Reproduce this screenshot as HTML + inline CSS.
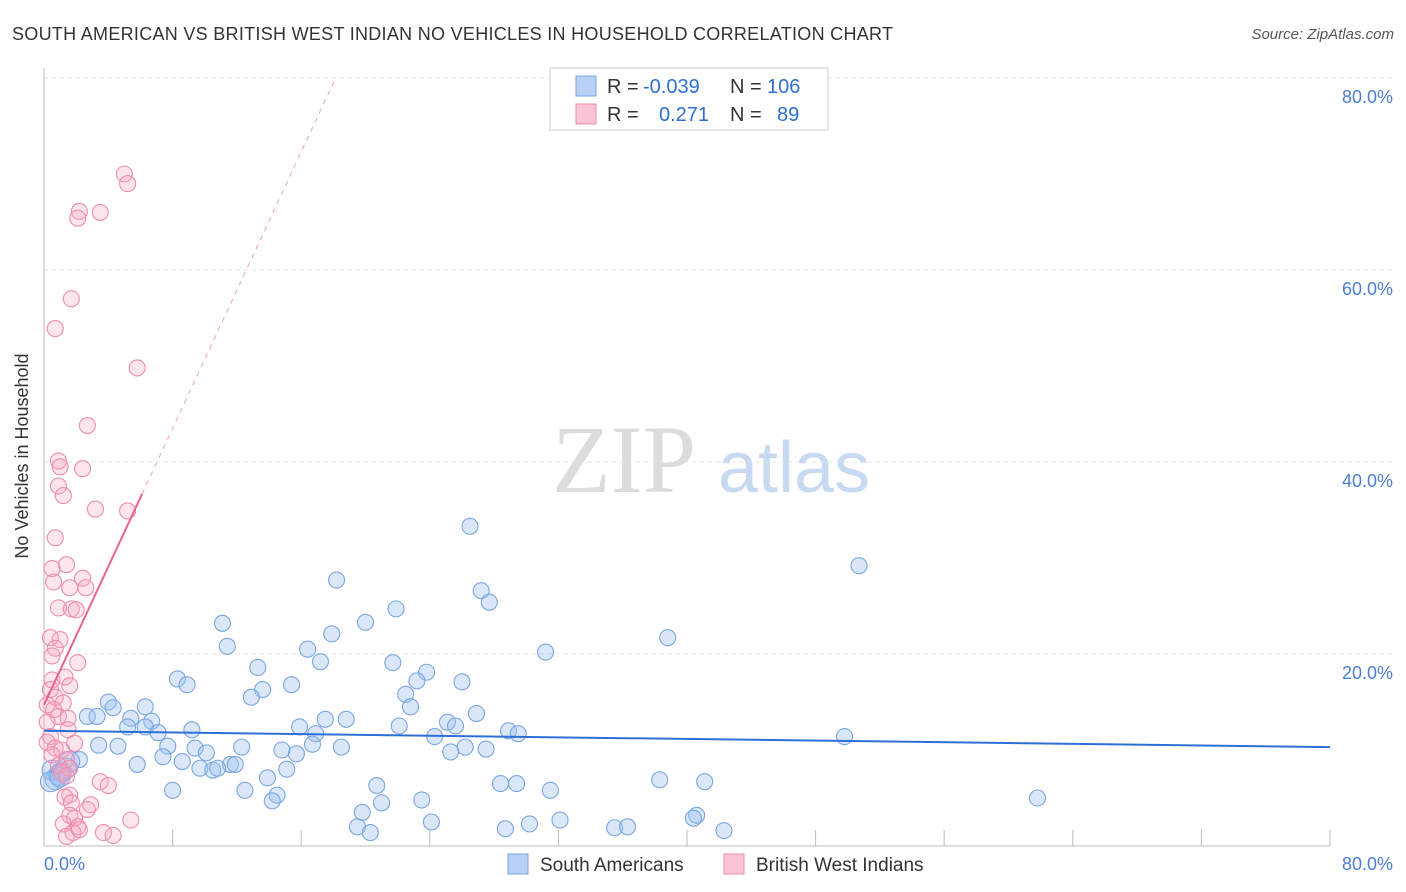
<!DOCTYPE html>
<html><head><meta charset="utf-8">
<style>
body{margin:0;background:#fff;font-family:"Liberation Sans",sans-serif;}
#wrap{position:relative;width:1406px;height:892px;overflow:hidden;}
</style></head>
<body>
<div id="wrap">
<svg id="svg" width="1406" height="892" xmlns="http://www.w3.org/2000/svg" font-family="Liberation Sans, sans-serif">
<text x="12" y="40" font-size="18" fill="#333" textLength="881">SOUTH AMERICAN VS BRITISH WEST INDIAN NO VEHICLES IN HOUSEHOLD CORRELATION CHART</text>
<text x="1394" y="39" font-size="15" fill="#555" font-style="italic" text-anchor="end">Source: ZipAtlas.com</text>
<text x="28" y="456" font-size="18" fill="#333" text-anchor="middle" transform="rotate(-90 28 456)">No Vehicles in Household</text>
<g><text x="552" y="492" font-size="96" fill="#dcdcdc" font-family="Liberation Serif, serif">ZIP</text><text x="718" y="492" font-size="72" fill="#c8daf2">atlas</text></g>
<g id="grid"></g>
<g id="pts"></g>
<g id="trend"></g>
<g>
<rect x="550" y="68" width="278" height="62" fill="#fff" stroke="#ccc"/>
<rect x="576" y="76" width="20" height="20" fill="#b7d0f3" stroke="#7aa6e0"/>
<rect x="576" y="104" width="20" height="20" fill="#f9c5d6" stroke="#f08cb0"/>
<text y="93" font-size="20" fill="#333"><tspan x="607">R = </tspan><tspan x="643" fill="#2e6fd6">-0.039</tspan><tspan x="730">N = </tspan><tspan x="767" fill="#2e6fd6">106</tspan></text>
<text y="121" font-size="20" fill="#333"><tspan x="607">R = </tspan><tspan fill="#2e6fd6" x="659">0.271</tspan><tspan x="730">N = </tspan><tspan fill="#2e6fd6" x="777">89</tspan></text>
</g>
<g>
<rect x="508" y="854" width="20" height="20" fill="#b7d0f3" stroke="#7aa6e0"/>
<text x="540" y="871" font-size="19" fill="#333">South Americans</text>
<rect x="724" y="854" width="20" height="20" fill="#f9c5d6" stroke="#f08cb0"/>
<text x="756" y="871" font-size="19" fill="#333">British West Indians</text>
</g>
<text x="44" y="870" font-size="18" fill="#4a7fd4">0.0%</text>
<text x="1393" y="870" font-size="18" fill="#4a7fd4" text-anchor="end">80.0%</text>
</svg>
</div>
<script>
const blueX=[26.5,50.7,18.2,27.2,27.7,21.9,11.1,20.0,38.8,17.9,11.4,16.4,31.2,17.2,21.7,13.3,23.8,23.2,26.0,8.3,8.9,15.4,13.6,12.9,22.5,22.8,4.0,4.3,6.3,2.7,3.3,5.4,6.7,17.5,18.8,26.9,25.1,25.6,5.2,6.3,9.2,15.9,22.1,28.9,29.5,49.8,7.1,16.9,24.3,3.4,4.6,7.7,9.4,12.3,16.7,18.5,26.2,27.5,10.1,14.8,15.7,25.3,2.2,7.4,8.6,5.8,11.6,11.9,9.7,10.5,10.8,15.1,13.9,38.3,41.1,20.7,28.4,29.4,8.0,12.5,31.5,14.5,14.2,21.0,23.5,61.8,19.8,40.6,40.4,24.1,32.1,30.2,19.5,28.7,20.3,35.5,36.3,42.3,0.5,0.9,1.1,1.4,1.6,0.7,0.4,1.0];
const blueY=[33.3,29.2,27.7,26.6,25.4,24.7,23.2,23.3,21.7,22.1,20.8,20.5,20.2,19.2,19.1,18.6,18.1,17.2,17.1,17.4,16.8,16.8,16.3,15.5,15.8,14.5,15.0,14.4,14.5,13.5,13.5,13.3,13.0,13.2,13.2,13.8,12.9,12.5,12.4,12.4,12.1,12.4,12.5,12.0,11.7,11.4,11.8,11.7,11.4,10.5,10.4,10.4,10.2,10.3,10.6,10.3,10.3,10.1,9.7,10.0,9.6,9.8,9.0,9.3,8.8,8.5,8.5,8.5,8.1,7.9,8.1,8.0,7.1,6.9,6.7,6.3,6.5,6.5,5.8,5.8,5.8,5.3,4.7,4.5,4.8,5.0,3.5,3.2,2.9,2.5,2.7,2.3,2.0,1.8,1.4,1.9,2.0,1.6,7.9,7.4,7.7,8.1,8.8,6.9,6.7,7.2];
const pinkX=[5.0,5.2,2.2,3.5,2.1,1.7,0.7,5.8,2.7,0.9,1.0,2.4,0.9,1.2,3.2,5.2,0.7,0.5,1.4,0.6,2.4,2.6,1.6,0.9,1.7,2.0,0.4,1.0,0.7,0.5,2.1,0.5,1.3,1.6,0.4,0.7,1.2,0.2,0.6,0.9,1.5,0.2,1.5,0.4,0.2,1.9,0.7,1.1,0.5,1.4,0.9,1.6,1.1,1.4,3.5,4.0,1.6,1.3,1.7,2.9,2.7,1.6,1.9,1.2,2.1,5.4,3.7,4.3,1.8,1.4,2.2];
const pinkY=[70.0,69.0,66.1,66.0,65.4,57.0,53.9,49.8,43.8,40.1,39.5,39.3,37.5,36.5,35.1,34.9,32.1,28.9,29.3,27.5,27.9,26.9,26.9,24.8,24.7,24.6,21.7,21.5,20.6,19.8,19.1,17.3,17.6,16.7,16.3,15.5,14.9,14.7,14.2,13.5,13.3,12.9,12.1,11.4,10.8,10.7,10.2,10.0,9.5,9.0,8.4,8.1,7.7,7.3,6.7,6.3,5.3,5.1,4.5,4.3,3.8,3.2,2.9,2.3,2.0,2.7,1.4,1.1,1.4,1.0,1.7];
const yTicks=[20,40,60,80];
const blueTrend=[12.0,10.3];
const pinkTrend=[14.7,3.6];
const X0=44,X1=1330,Y0=846,PXY=9.6;
const sx=v=>X0+v*(X1-X0)/80, sy=v=>Y0-v*PXY;
const NS='http://www.w3.org/2000/svg';
function mk(t,a,p){const e=document.createElementNS(NS,t);for(const k in a)e.setAttribute(k,a[k]);p.appendChild(e);return e;}
const grid=document.getElementById('grid');
yTicks.forEach(t=>{
 const l=mk('line',{x1:X0,x2:1393,y1:sy(t),y2:sy(t),stroke:'#e4e4e4','stroke-dasharray':'4,4'},grid);
 
 
 const tx=mk('text',{x:1393,y:sy(t)+25,'font-size':18,fill:'#4a7fd4','text-anchor':'end'},grid);
 tx.textContent=t.toFixed(1)+'%';
 
 
});
const ax=mk('line',{x1:X0,x2:X1,y1:Y0,y2:Y0,stroke:'#bbb'},grid);


const ay=mk('line',{x1:X0,x2:X0,y1:68,y2:Y0,stroke:'#bbb'},grid);


for(let i=1;i<=10;i++){const t=mk('line',{x1:sx(i*8),x2:sx(i*8),y1:Y0,y2:Y0-16,stroke:'#bbb'},grid);
 
 }
const pts=document.getElementById('pts');
blueX.forEach((x,i)=>{const c=mk('circle',{cx:sx(x),cy:sy(blueY[i]),r:i>=98?10:8,fill:'rgba(160,196,240,0.4)',stroke:'#7aa6e0','stroke-width':1.1},pts);
 
 });
pinkX.forEach((x,i)=>{const c=mk('circle',{cx:sx(x),cy:sy(pinkY[i]),r:8,fill:'rgba(245,170,195,0.3)',stroke:'#f08cb0','stroke-width':1.1},pts);
 
 });
const tr=document.getElementById('trend');
const bl=mk('line',{x1:sx(0),y1:sy(blueTrend[0]),x2:sx(80),y2:sy(blueTrend[1]),stroke:'#2e6fd6','stroke-width':2},tr);


const pEnd=(80-pinkTrend[0])/pinkTrend[1];
const pd=mk('line',{x1:sx(6.1),y1:sy(pinkTrend[0]+pinkTrend[1]*6.1),x2:sx(pEnd),y2:sy(80),stroke:'#f0a0bc','stroke-width':1,'stroke-dasharray':'5,5'},tr);


const pl=mk('line',{x1:sx(0),y1:sy(pinkTrend[0]),x2:sx(6.1),y2:sy(pinkTrend[0]+pinkTrend[1]*6.1),stroke:'#e8638f','stroke-width':2},tr);


</script>
</body></html>
